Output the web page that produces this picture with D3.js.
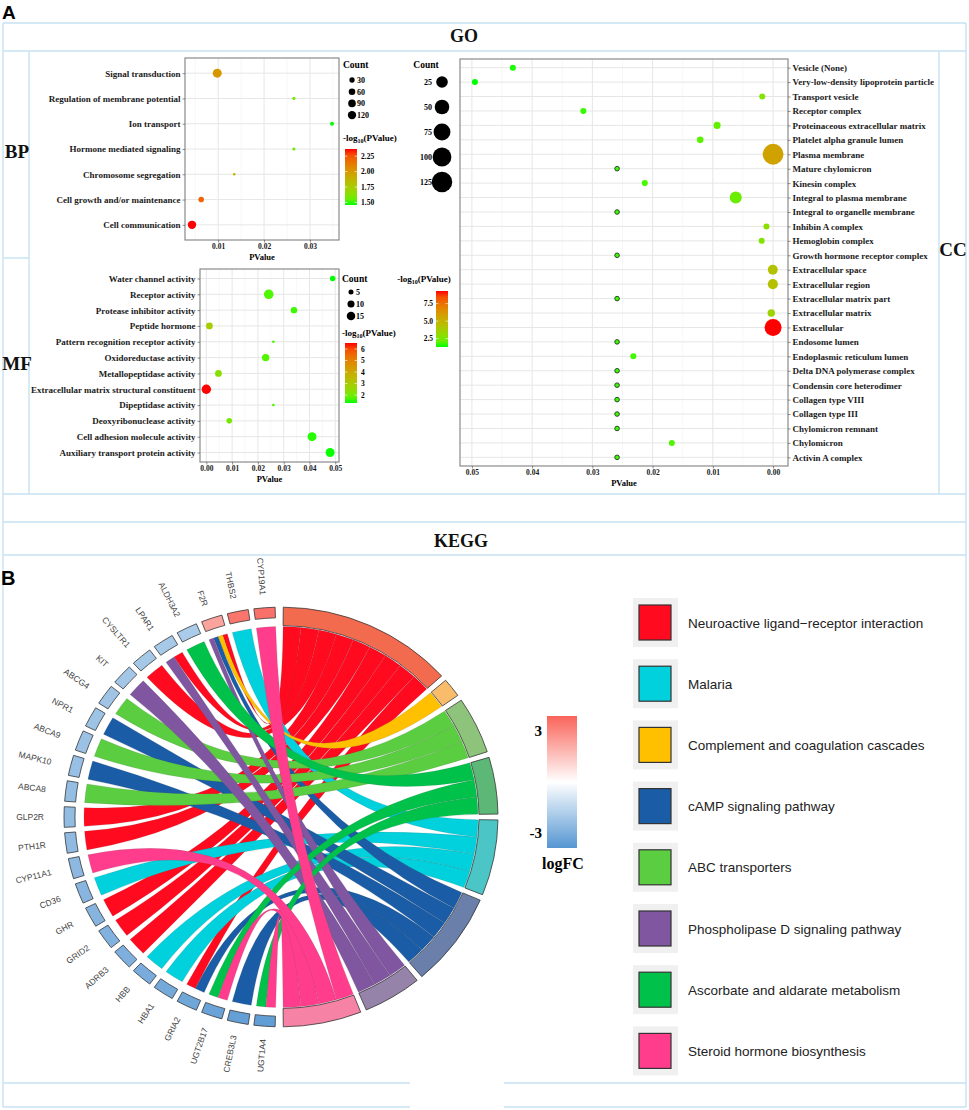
<!DOCTYPE html>
<html>
<head>
<meta charset="utf-8">
<script src="https://cdn.jsdelivr.net/npm/d3@7"></script>
<style>
    body { margin: 0; background: white; }
</style>
</head>
<body>
<div id="wrapper"></div>
<script>
// ---------- GO : biological process ----------
var bpTerms = ["Signal transduction", "Regulation of membrane potential", "Ion transport",
    "Hormone mediated signaling", "Chromosome segregation", "Cell growth and/or maintenance",
    "Cell communication"];
var bpPValue = [0.0098, 0.0265, 0.0348, 0.0265, 0.0135, 0.0063, 0.0043];
var bpCount = [145, 6, 12, 6, 5, 36, 120];
var bpPTicks = [0.01, 0.02, 0.03];
var bpSizeBreaks = [30, 60, 90, 120];
var bpColorTicks = [1.5, 1.75, 2, 2.25];

// ---------- GO : molecular function ----------
var mfTerms = ["Water channel activity", "Receptor activity", "Protease inhibitor activity",
    "Peptide hormone", "Pattern recognition receptor activity", "Oxidoreductase activity",
    "Metallopeptidase activity", "Extracellular matrix structural constituent",
    "Dipeptidase activity", "Deoxyribonuclease activity", "Cell adhesion molecule activity",
    "Auxiliary transport protein activity"];
var mfPValue = [0.049, 0.0242, 0.034, 0.0012, 0.026, 0.023, 0.0047, 3e-7, 0.026, 0.0089, 0.041, 0.048];
var mfCount = [6, 20, 8, 9, 3, 11, 9, 19, 3, 6, 17, 17];
var mfPTicks = [0, 0.01, 0.02, 0.03, 0.04, 0.05];
var mfSizeBreaks = [5, 10, 15];
var mfColorTicks = [2, 3, 4, 5, 6];

// ---------- GO : cellular component ----------
var ccTerms = ["Vesicle (None)", "Very-low-density lipoprotein particle", "Transport vesicle",
    "Receptor complex", "Proteinaceous extracellular matrix", "Platelet alpha granule lumen",
    "Plasma membrane", "Mature chylomicron", "Kinesin complex", "Integral to plasma membrane",
    "Integral to organelle membrane", "Inhibin A complex", "Hemoglobin complex",
    "Growth hormone receptor complex", "Extracellular space", "Extracellular region",
    "Extracellular matrix part", "Extracellular matrix", "Extracellular", "Endosome lumen",
    "Endoplasmic reticulum lumen", "Delta DNA polymerase complex", "Condensin core heterodimer",
    "Collagen type VIII", "Collagen type III", "Chylomicron remnant", "Chylomicron",
    "Activin A complex"];
var ccPValue = [0.0432, 0.0495, 0.0018, 0.0315, 0.0093, 0.0121, 2e-6, 0.0259, 0.0213, 0.0062,
    0.0259, 0.0011, 0.0019, 0.0259, 5e-5, 4e-5, 0.0259, 3e-4, 5e-10, 0.0259,
    0.0232, 0.0259, 0.0259, 0.0259, 0.0259, 0.0259, 0.0168, 0.0259];
var ccCount = [2, 2, 2, 2, 4, 3, 130, 1, 2, 28, 1, 2, 2, 1, 15, 16, 1, 5, 76, 1, 2, 1, 1, 1, 1, 1, 2, 1];
var ccPTicks = [0.05, 0.04, 0.03, 0.02, 0.01, 0];
var ccSizeBreaks = [25, 50, 75, 100, 125];
var ccColorTicks = [2.5, 5, 7.5];

// ---------- KEGG chord ----------
var keggPathways = ["Neuroactive ligand\u2212receptor interaction", "Malaria",
    "Complement and coagulation cascades", "cAMP signaling pathway", "ABC transporters",
    "Phospholipase D signaling pathway", "Ascorbate and aldarate metabolism",
    "Steroid hormone biosynthesis"];
var keggColors = ["#ff0a1e", "#00d1dc", "#ffc000", "#1a5ca5", "#5ace40", "#7f569f", "#00c14a", "#ff3d8c"];
var keggRingColors = ["#f26b4f", "#4bc5c6", "#f9bc6a", "#6a80aa", "#8dc37a", "#9583a9", "#5db878", "#f683a6"];
// order of the pathway segments around the circle (clockwise from top)
var ringOrder = [0, 2, 4, 6, 1, 3, 5, 7];
// genes clockwise from the bottom of the circle
var genes = ["UGT1A4", "CREB3L3", "UGT2B17", "GRIA2", "HBA1", "HBB", "ADRB3", "GRID2", "GHR",
    "CD36", "CYP11A1", "PTH1R", "GLP2R", "ABCA8", "MAPK10", "ABCA9", "NPR1", "ABCG4", "KIT",
    "CYSLTR1", "LPAR1", "ALDH3A2", "F2R", "THBS2", "CYP19A1"];
var geneLogFC = [-3.62, -3.55, -3.41, -3.28, -3.2, -3.07, -2.96, -2.9, -2.78, -2.7, -2.62, -2.55,
    -2.49, -2.41, -2.36, -2.3, -2.24, -2.19, -2.12, -2.05, -2.01, -1.94, 2.31, 3.47, 3.58];
// pathway indices (into keggPathways) for each gene
var geneLinks = [[6, 7], [3], [6, 7], [0, 3], [1], [1], [0], [0], [0], [1], [7], [0], [0], [4],
    [3], [4], [3], [4], [5], [0], [0, 5], [6], [0, 2, 3, 5], [1], [7]];

var serif = "'Liberation Serif', 'Times New Roman', serif";
var sans = "'Liberation Sans', Arial, sans-serif";

function create(){
    const svg = d3.select("#wrapper")
        .append("svg")
        .attr("width", 969)
        .attr("height", 1110)
        .style("font-family", serif);

    svg.append("rect").attr("width", 969).attr("height", 1110).attr("fill", "white");

    // table frame
    var lineCol = "#c6e2f2";
    var hLines = [[3, 966, 23], [3, 966, 51], [3, 29, 258], [3, 966, 494], [3, 966, 522],
        [3, 966, 555], [3, 410, 1083], [504, 966, 1083], [3, 410, 1107], [504, 966, 1107]];
    var vLines = [[3, 23, 1107], [966, 23, 1107], [29, 51, 494], [939, 51, 494]];
    svg.append("g").selectAll("line").data(hLines).join("line")
        .attr("x1", d => d[0]).attr("x2", d => d[1]).attr("y1", d => d[2]).attr("y2", d => d[2])
        .attr("stroke", lineCol).attr("stroke-width", 1.4);
    svg.append("g").selectAll("line").data(vLines).join("line")
        .attr("x1", d => d[0]).attr("x2", d => d[0]).attr("y1", d => d[1]).attr("y2", d => d[2])
        .attr("stroke", lineCol).attr("stroke-width", 1.4);

    svg.append("text").attr("x", 2).attr("y", 19).style("font-family", sans)
        .attr("font-size", 19).attr("font-weight", "bold").text("A");
    svg.append("text").attr("x", 1).attr("y", 585).style("font-family", sans)
        .attr("font-size", 20).attr("font-weight", "bold").text("B");

    bigText(svg, 464, 42, 18, "GO", "middle");
    bigText(svg, 461, 547, 18, "KEGG", "middle");
    bigText(svg, 17, 158, 19, "BP", "middle");
    bigText(svg, 17, 370, 19, "MF", "middle");
    bigText(svg, 953, 256, 19, "CC", "middle");

    // BP panel
    var bp = dotPanel(svg, {terms: bpTerms, pvals: bpPValue, counts: bpCount, ticks: bpPTicks,
        x0: 185, x1: 339, y0: 58, y1: 240, rRange: [1.3, 4.5]});
    sizeLegend(svg, {x: 343, y: 68, anchor: "start", breaks: bpSizeBreaks, dotX: 352, y0: 80,
        step: 11.7, labelX: 357, labelAnchor: "start"}, bp.r);
    colorBar(svg, {x: 345, y: 149, h: 56, titleX: 343, titleY: 141, titleAnchor: "start",
        ticks: bpColorTicks, fmt: ".2f", labelX: 361, labelAnchor: "start", id: "gbp"}, bp.color);

    // MF panel
    var mf = dotPanel(svg, {terms: mfTerms, pvals: mfPValue, counts: mfCount, ticks: mfPTicks,
        x0: 200, x1: 339, y0: 269, y1: 462, rRange: [1.3, 4.8]});
    sizeLegend(svg, {x: 342, y: 282, anchor: "start", breaks: mfSizeBreaks, dotX: 351, y0: 292,
        step: 12, labelX: 356, labelAnchor: "start"}, mf.r);
    colorBar(svg, {x: 345, y: 343, h: 60, titleX: 342, titleY: 336, titleAnchor: "start",
        ticks: mfColorTicks, fmt: "d", labelX: 361, labelAnchor: "start", id: "gmf"}, mf.color);

    // CC panel
    var cc = dotPanel(svg, {terms: ccTerms, pvals: ccPValue, counts: ccCount, ticks: ccPTicks,
        x0: 460, x1: 788, y0: 59, y1: 466, rRange: [2.3, 10.4], reverse: true, outlineMin: true});
    sizeLegend(svg, {x: 426, y: 68, anchor: "middle", breaks: ccSizeBreaks, dotX: 442, y0: 82,
        step: 25, labelX: 432, labelAnchor: "end"}, cc.r);
    colorBar(svg, {x: 436, y: 291, h: 56, titleX: 424, titleY: 282, titleAnchor: "middle",
        ticks: ccColorTicks, fmt: ".1f", labelX: 433, labelAnchor: "end", id: "gcc"}, cc.color);

    chordDiagram(svg);
    keggLegend(svg);
}

function bigText(svg, x, y, size, txt, anchor){
    svg.append("text")
        .attr("x", x).attr("y", y)
        .attr("text-anchor", anchor)
        .attr("font-size", size)
        .attr("font-weight", "bold")
        .attr("fill", "#111")
        .text(txt);
}

function styleAxis(g){
    g.attr("font-family", null).attr("font-size", null);
    g.select(".domain").remove();
    g.selectAll(".tick line").attr("stroke", "#444").attr("stroke-width", 0.6);
    g.selectAll(".tick text")
        .style("font-family", serif)
        .attr("font-weight", "bold")
        .attr("fill", "#1a1a1a");
}

function dotPanel(svg, p){
    var ext = d3.extent(p.pvals);
    var pad = (ext[1] - ext[0]) * 0.05;
    var dom = [ext[0] - pad, ext[1] + pad];

    // Add X scale (ggplot style 5% expansion)
    var x = d3.scaleLinear()
        .domain(p.reverse ? [dom[1], dom[0]] : dom)
        .range([p.x0, p.x1]);
    // Add Y scale
    var y = d3.scalePoint()
        .domain(p.terms)
        .range([p.y0, p.y1])
        .padding(0.6);

    var logP = p.pvals.map(v => -Math.log10(v));
    var color = d3.scaleLinear()
        .domain(d3.extent(logP))
        .range(["#00ff00", "#ff0000"])
        .interpolate(d3.interpolateLab);
    var cnt = d3.scaleLinear().domain(d3.extent(p.counts)).range([0, 1]);
    var r = c => p.rRange[0] + (p.rRange[1] - p.rRange[0]) * Math.sqrt(Math.max(0, cnt(c)));

    var g = svg.append("g");
    g.append("rect")
        .attr("x", p.x0).attr("y", p.y0)
        .attr("width", p.x1 - p.x0).attr("height", p.y1 - p.y0)
        .attr("fill", "white");

    // grid
    var step = Math.abs(p.ticks[1] - p.ticks[0]);
    var minor = [];
    for (var i = -1; i < p.ticks.length; i++){
        var v = d3.min(p.ticks) + step * (i + 0.5);
        if (v > dom[0] && v < dom[1]) minor.push(v);
    }
    g.selectAll("line.minor").data(minor).join("line")
        .attr("class", "minor")
        .attr("x1", d => x(d)).attr("x2", d => x(d))
        .attr("y1", p.y0).attr("y2", p.y1)
        .attr("stroke", "#f2f2f2").attr("stroke-width", 0.6);
    g.selectAll("line.major").data(p.ticks).join("line")
        .attr("class", "major")
        .attr("x1", d => x(d)).attr("x2", d => x(d))
        .attr("y1", p.y0).attr("y2", p.y1)
        .attr("stroke", "#e6e6e6").attr("stroke-width", 1);
    g.selectAll("line.hgrid").data(p.terms).join("line")
        .attr("class", "hgrid")
        .attr("x1", p.x0).attr("x2", p.x1)
        .attr("y1", d => y(d)).attr("y2", d => y(d))
        .attr("stroke", "#e6e6e6").attr("stroke-width", 1);

    // Add dots
    var minCount = d3.min(p.counts);
    g.selectAll("circle").data(p.terms).join("circle")
        .attr("cx", (d, i) => x(p.pvals[i]))
        .attr("cy", d => y(d))
        .attr("r", (d, i) => r(p.counts[i]))
        .attr("fill", (d, i) => color(logP[i]))
        .attr("stroke", (d, i) => (p.outlineMin && p.counts[i] === minCount) ? "#2a4a2a" : "none")
        .attr("stroke-width", 1);

    g.append("rect")
        .attr("x", p.x0).attr("y", p.y0)
        .attr("width", p.x1 - p.x0).attr("height", p.y1 - p.y0)
        .attr("fill", "none")
        .attr("stroke", "#8a8a8a")
        .attr("stroke-width", 1.2);

    // Add X axis
    svg.append("g")
        .attr("transform", "translate(0," + p.y1 + ")")
        .call(d3.axisBottom(x).tickValues(p.ticks).tickFormat(d3.format(".2f")).tickSize(2.5).tickPadding(1.5))
        .call(styleAxis)
        .selectAll("text").attr("font-size", 7.5);

    // Add Y axis
    svg.append("g")
        .attr("transform", "translate(" + (p.reverse ? p.x1 : p.x0) + ",0)")
        .call((p.reverse ? d3.axisRight(y) : d3.axisLeft(y)).tickSize(2.5).tickPadding(2))
        .call(styleAxis)
        .selectAll("text").attr("font-size", 9);

    svg.append("text")
        .attr("x", (p.x0 + p.x1) / 2).attr("y", p.y1 + 20)
        .attr("text-anchor", "middle")
        .attr("font-size", 8.5).attr("font-weight", "bold")
        .text("PValue");

    return {color: color, r: r};
}

function sizeLegend(svg, s, r){
    svg.append("text")
        .attr("x", s.x).attr("y", s.y)
        .attr("text-anchor", s.anchor)
        .attr("font-size", 9.5).attr("font-weight", "bold")
        .text("Count");
    var g = svg.append("g");
    g.selectAll("circle").data(s.breaks).join("circle")
        .attr("cx", s.dotX)
        .attr("cy", (d, i) => s.y0 + i * s.step)
        .attr("r", d => r(d))
        .attr("fill", "black");
    g.selectAll("text").data(s.breaks).join("text")
        .attr("x", s.labelX)
        .attr("y", (d, i) => s.y0 + i * s.step + 2.8)
        .attr("text-anchor", s.labelAnchor)
        .attr("font-size", 8).attr("font-weight", "bold")
        .text(d => d);
}

function colorBar(svg, c, color){
    var dom = color.domain();
    var ys = d3.scaleLinear().domain(dom).range([c.y + c.h, c.y]);
    var grad = svg.append("defs").append("linearGradient")
        .attr("id", c.id)
        .attr("x1", 0).attr("y1", 1).attr("x2", 0).attr("y2", 0);
    d3.range(0, 11).forEach(i => {
        grad.append("stop")
            .attr("offset", i / 10)
            .attr("stop-color", color(dom[0] + (dom[1] - dom[0]) * i / 10));
    });

    var t = svg.append("text")
        .attr("x", c.titleX).attr("y", c.titleY)
        .attr("text-anchor", c.titleAnchor)
        .attr("font-size", 9).attr("font-weight", "bold");
    t.append("tspan").text("-log");
    t.append("tspan").attr("font-size", 6).attr("dy", 2).text("10");
    t.append("tspan").attr("dy", -2).text("(PValue)");

    svg.append("rect")
        .attr("x", c.x).attr("y", c.y)
        .attr("width", 12).attr("height", c.h)
        .attr("fill", "url(#" + c.id + ")");
    svg.append("g").selectAll("line").data(c.ticks).join("line")
        .attr("x1", c.x).attr("x2", c.x + 12)
        .attr("y1", d => ys(d)).attr("y2", d => ys(d))
        .attr("stroke", "white").attr("stroke-width", 0.6)
        .attr("stroke-dasharray", "2.5,7");
    svg.append("g").selectAll("text").data(c.ticks).join("text")
        .attr("x", c.labelX)
        .attr("y", d => ys(d) + 2.8)
        .attr("text-anchor", c.labelAnchor)
        .attr("font-size", 7.5).attr("font-weight", "bold")
        .text(d => d3.format(c.fmt)(d));
}

function chordDiagram(svg){
    var cx = 281, cy = 817, sy = 0.967;
    var rOut = 217, rGeneIn = 206, rRingIn = 198, rLink = 197, rLabel = 237;
    var deg = Math.PI / 180;

    var fcColor = d3.scaleLinear()
        .domain([-3.9, 0, 3.9])
        .range(["#5596d2", "#ffffff", "#f9645a"]);

    // gene slots on the left half
    var gStart = 180.8 * deg, gEnd = 359.2 * deg, gPad = 0.75 * deg;
    var slot = (gEnd - gStart) / genes.length;
    var geneArcs = genes.map((name, i) => ({
        name: name, i: i,
        startAngle: gStart + i * slot + gPad,
        endAngle: gStart + (i + 1) * slot - gPad
    }));

    // pathway segments on the right half
    var pwGenes = keggPathways.map((_, k) => d3.range(genes.length).filter(i => geneLinks[i].includes(k)).reverse());
    var nUnits = d3.sum(pwGenes, d => d.length);
    var pStart = 0.6 * deg, pEnd = 179.4 * deg, pGap = 1.6 * deg;
    var unit = (pEnd - pStart - pGap * (ringOrder.length - 1)) / nUnits;
    var a = pStart, pwArcs = [], targets = {};
    ringOrder.forEach(k => {
        pwGenes[k].forEach((gi, j) => {
            targets[k + "_" + gi] = {startAngle: a + j * unit, endAngle: a + (j + 1) * unit};
        });
        pwArcs.push({k: k, startAngle: a, endAngle: a + pwGenes[k].length * unit});
        a += pwGenes[k].length * unit + pGap;
    });

    var links = [];
    geneArcs.forEach(ga => {
        var ks = geneLinks[ga.i].slice().sort((p, q) => ringOrder.indexOf(q) - ringOrder.indexOf(p));
        var w = (ga.endAngle - ga.startAngle) / ks.length;
        ks.forEach((k, j) => {
            links.push({
                k: k,
                source: {startAngle: ga.startAngle + j * w, endAngle: ga.startAngle + (j + 1) * w},
                target: targets[k + "_" + ga.i]
            });
        });
    });
    links.sort((p, q) => p.k - q.k);

    var g = svg.append("g")
        .attr("transform", "translate(" + cx + "," + cy + ") scale(1," + sy + ")");

    // ribbons
    g.append("g").selectAll("path").data(links).join("path")
        .attr("d", d3.ribbon().radius(rLink))
        .attr("fill", d => keggColors[d.k])
        .attr("stroke", "#555")
        .attr("stroke-width", 0.3)
        .attr("stroke-opacity", 0.5);

    // gene boxes
    g.append("g").selectAll("path").data(geneArcs).join("path")
        .attr("d", d3.arc().innerRadius(rGeneIn).outerRadius(rOut))
        .attr("fill", d => fcColor(geneLogFC[d.i]))
        .attr("stroke", "#333")
        .attr("stroke-width", 0.8);

    // pathway ring
    g.append("g").selectAll("path").data(pwArcs).join("path")
        .attr("d", d3.arc().innerRadius(rRingIn).outerRadius(rOut))
        .attr("fill", d => keggRingColors[d.k])
        .attr("stroke", "#333")
        .attr("stroke-width", 0.8);

    // gene labels, reading toward the centre
    svg.append("g").selectAll("text").data(geneArcs).join("text")
        .attr("transform", d => {
            var m = (d.startAngle + d.endAngle) / 2;
            var px = cx + rLabel * Math.sin(m);
            var py = cy - rLabel * Math.cos(m) * 0.94;
            var rot = Math.atan2(Math.cos(m) * sy, -Math.sin(m)) * 180 / Math.PI;
            return "translate(" + px + "," + py + ") rotate(" + rot + ")";
        })
        .attr("text-anchor", "end")
        .attr("dominant-baseline", "central")
        .style("font-family", sans)
        .attr("font-size", 8.5)
        .attr("fill", "#444")
        .text(d => d.name);

    // logFC colour bar
    var grad = svg.append("defs").append("linearGradient")
        .attr("id", "gfc")
        .attr("x1", 0).attr("y1", 1).attr("x2", 0).attr("y2", 0);
    [-3.9, -1.95, 0, 1.95, 3.9].forEach((v, i) => {
        grad.append("stop").attr("offset", i / 4).attr("stop-color", fcColor(v));
    });
    var yb = d3.scaleLinear().domain([-3.9, 3.9]).range([848, 716]);
    svg.append("rect")
        .attr("x", 547).attr("y", yb(3.9))
        .attr("width", 30).attr("height", yb(-3.9) - yb(3.9))
        .attr("fill", "url(#gfc)");
    svg.append("g").selectAll("text").data([3, -3]).join("text")
        .attr("x", 542)
        .attr("y", d => yb(d) + 5)
        .attr("text-anchor", "end")
        .attr("font-size", 15).attr("font-weight", "bold")
        .text(d => d);
    svg.append("text")
        .attr("x", 563).attr("y", 869)
        .attr("text-anchor", "middle")
        .attr("font-size", 16).attr("font-weight", "bold")
        .text("logFC");
}

function keggLegend(svg){
    var y = d3.scaleBand()
        .domain(keggPathways)
        .range([598, 598 + 61.2 * keggPathways.length]);
    var g = svg.append("g").selectAll("g").data(keggPathways).join("g")
        .attr("transform", d => "translate(633," + y(d) + ")");
    g.append("rect")
        .attr("width", 45).attr("height", 49)
        .attr("fill", "#f0f0f0");
    g.append("rect")
        .attr("x", 6).attr("y", 7)
        .attr("width", 32).attr("height", 35)
        .attr("fill", (d, i) => keggColors[i])
        .attr("stroke", "#333")
        .attr("stroke-width", 1.2);
    g.append("text")
        .attr("x", 55).attr("y", 25)
        .attr("dominant-baseline", "central")
        .style("font-family", sans)
        .attr("font-size", 13.5)
        .attr("fill", "#222")
        .text(d => d);
}

create();
</script>
</body>
</html>
